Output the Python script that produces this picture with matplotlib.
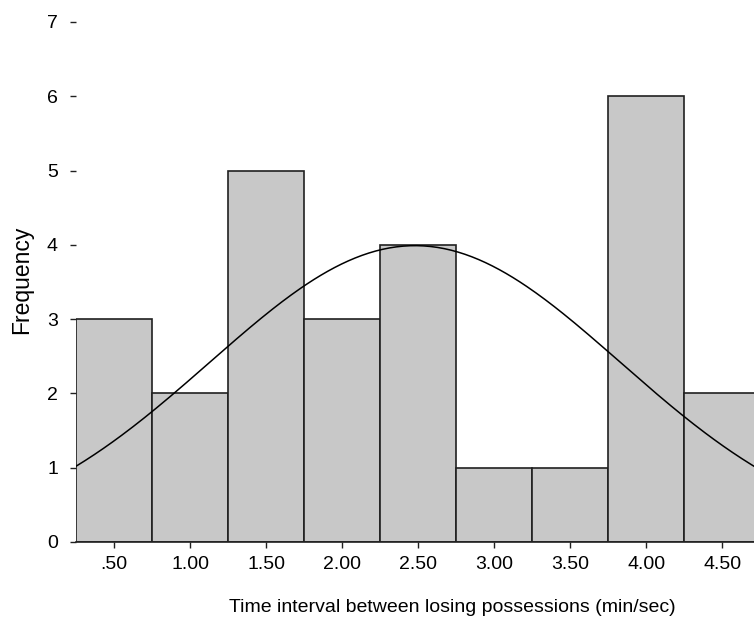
import numpy as np
import matplotlib
matplotlib.use("Agg")
from matplotlib import pyplot as plt

plt.rcParams['font.family'] = ['Liberation Sans', 'DejaVu Sans']

bin_centers = [0.5, 1.0, 1.5, 2.0, 2.5, 3.0, 3.5, 4.0, 4.5]
counts = [3, 2, 5, 3, 4, 1, 1, 6, 2]
tick_labels = [".50", "1.00", "1.50", "2.00", "2.50", "3.00", "3.50", "4.00", "4.50"]
bin_width = 0.5

# normal curve fitted to the data
curve_mean = 2.48
curve_sd = 1.35

fig = plt.figure(figsize=(7.54, 6.33), dpi=100)
ax = fig.add_axes([76 / 754, 91 / 633, 1 - 76 / 754, 611 / 633 - 91 / 633])

ax.bar(bin_centers, counts, width=bin_width, color="#c8c8c8",
       edgecolor="#202020", linewidth=1.2)

n = sum(counts)
xs = np.linspace(0.25, 4.75, 300)
ys = n * bin_width * np.exp(-0.5 * ((xs - curve_mean) / curve_sd) ** 2) / (curve_sd * np.sqrt(2 * np.pi))
ax.plot(xs, ys, color="black", linewidth=1.1)

ax.set_xlim(0.25, 4.71)
ax.set_ylim(0, 7)
ax.set_xticks(bin_centers)
ax.set_xticklabels(tick_labels)
ax.set_yticks(range(8))

for s in ["top", "right", "left"]:
    ax.spines[s].set_visible(False)
ax.spines["bottom"].set_linewidth(1.2)
ax.spines["bottom"].set_color("#202020")
ax.tick_params(axis="both", labelsize=14, length=4, width=1, colors="#202020", labelcolor="black")
ax.tick_params(axis="x", pad=6)
ax.tick_params(axis="y", pad=9)

fig.text(22 / 754, 1 - 280 / 633, "Frequency", fontsize=16.5, rotation=90,
         ha="center", va="center")
fig.text(452 / 754, 1 - 608 / 633, "Time interval between losing possessions (min/sec)",
         fontsize=14, ha="center", va="center")

fig.savefig("out.png", dpi=100)
